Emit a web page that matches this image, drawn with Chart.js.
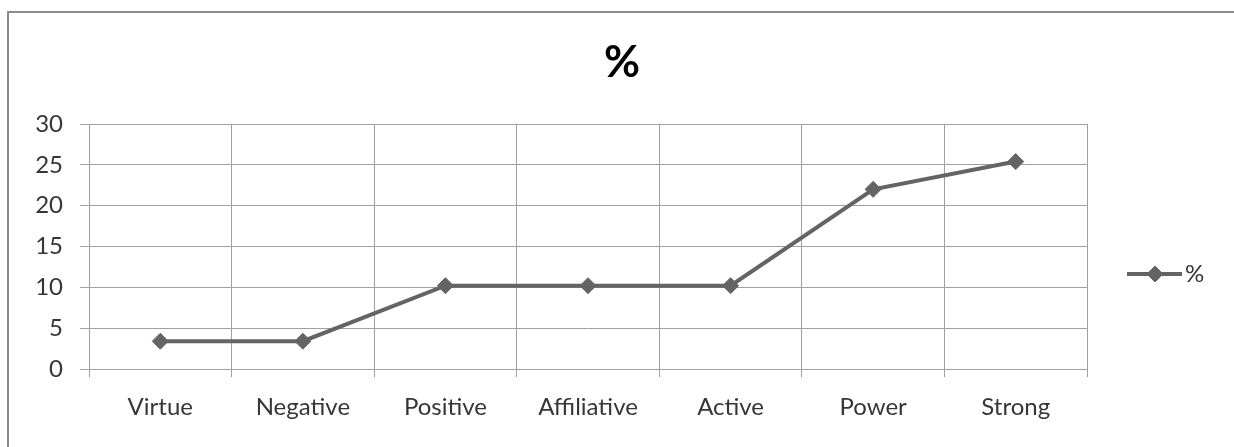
<!DOCTYPE html>
<html>
<head>
<meta charset="utf-8">
<title>%</title>
<script src="https://cdn.jsdelivr.net/npm/chart.js@4.4.1/dist/chart.umd.min.js"></script>
<style>
  html, body { margin: 0; padding: 0; background: #ffffff; }
  #wrap { width: 1234px; height: 447px; }
</style>
</head>
<body>
<div id="wrap"><canvas id="chart" width="1234" height="447"></canvas></div>
<script>
// Share of each category, in percent
const categories = ['Virtue', 'Negative', 'Positive', 'Affiliative', 'Active', 'Power', 'Strong'];
const percentValues = [3.4, 3.4, 10.2, 10.2, 10.2, 22.0, 25.4];
const yTickValues = [0, 5, 10, 15, 20, 25, 30];
const seriesName = '%';
const chartTitle = '%';

const FONT = 'Lato, "Open Sans", sans-serif';
const TEXT = '#363636';
const GRID = '#a0a0a0';
const LINE = '#646464';

// Frame, title and the single-entry legend on the right
const decorations = {
  id: 'decorations',
  afterDraw(chart) {
    const { ctx } = chart;
    ctx.save();
    // outer frame (runs off the right and bottom edges)
    ctx.strokeStyle = '#8a8a8a';
    ctx.lineWidth = 2;
    ctx.strokeRect(8, 12, 1260, 460);

    // title
    ctx.fillStyle = '#000000';
    ctx.font = 'bold 44px ' + FONT;
    ctx.textAlign = 'center';
    ctx.textBaseline = 'middle';
    ctx.fillText(chartTitle, 622, 63);

    // legend
    const ly = 274;
    ctx.strokeStyle = LINE;
    ctx.lineWidth = 4;
    ctx.beginPath();
    ctx.moveTo(1127, ly);
    ctx.lineTo(1182, ly);
    ctx.stroke();
    ctx.fillStyle = LINE;
    ctx.lineWidth = 1;
    Chart.helpers.drawPoint(ctx, { pointStyle: 'rectRot', radius: 8, rotation: 0, borderWidth: 1 }, 1155, ly);
    ctx.fillStyle = TEXT;
    ctx.font = '24px ' + FONT;
    ctx.textAlign = 'left';
    ctx.textBaseline = 'middle';
    ctx.fillText(seriesName, 1185, ly);
    ctx.restore();
  }
};

new Chart(document.getElementById('chart'), {
  type: 'line',
  data: {
    labels: categories,
    datasets: [{
      label: seriesName,
      data: percentValues,
      borderColor: LINE,
      backgroundColor: LINE,
      borderWidth: 4,
      tension: 0,
      pointStyle: 'rectRot',
      pointRadius: 8,
      pointHoverRadius: 8,
      pointBackgroundColor: LINE,
      pointBorderColor: LINE,
      pointBorderWidth: 1
    }]
  },
  options: {
    responsive: false,
    animation: false,
    events: [],
    layout: { padding: { left: 0, right: 147, top: 124, bottom: 0 } },
    plugins: {
      legend: { display: false },
      title: { display: false },
      tooltip: { enabled: false }
    },
    scales: {
      x: {
        type: 'category',
        offset: true,
        grid: { offset: true, color: GRID, lineWidth: 1, tickLength: 8, drawTicks: true },
        border: { color: GRID, width: 1 },
        ticks: { color: TEXT, font: { family: FONT, size: 24 }, padding: 16, maxRotation: 0, autoSkip: false },
        afterFit(scale) { scale.height = 78; }
      },
      y: {
        min: 0,
        max: 30,
        afterBuildTicks(scale) { scale.ticks = yTickValues.map(v => ({ value: v })); },
        grid: { color: GRID, lineWidth: 1, tickLength: 9 },
        border: { color: GRID, width: 1 },
        ticks: { color: TEXT, font: { family: FONT, size: 24 }, padding: 17 },
        afterFit(scale) { scale.width = 89; }
      }
    }
  },
  plugins: [decorations]
});
</script>
</body>
</html>
